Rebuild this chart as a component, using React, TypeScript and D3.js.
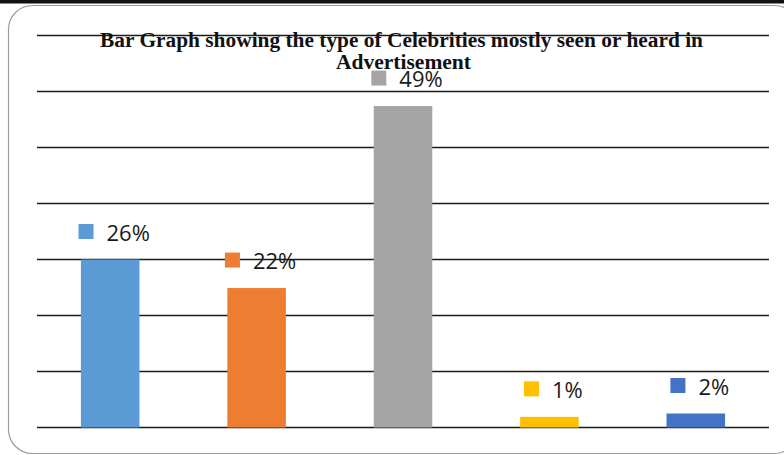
import React, { useEffect, useRef } from "react";
import * as d3 from "d3";

const categories = ["Cat A", "Cat B", "Cat C", "Cat D", "Cat E"];
const values = [30, 24.9, 57.4, 1.9, 2.5];
const valueLabels = ["26%", "22%", "49%", "1%", "2%"];
const colors = ["#5B9BD5", "#ED7D31", "#A5A5A5", "#FFC000", "#4472C4"];
const gridTicks = [0, 10, 20, 30, 40, 50, 60, 70];
const titleLines = [
  "Bar Graph showing the type of Celebrities mostly seen or heard in",
  "Advertisement",
];

const W = 784;
const H = 455;

export default function App() {
  const ref = useRef<SVGSVGElement | null>(null);

  useEffect(() => {
    const svg = d3.select(ref.current);
    svg.selectAll("*").remove();

    // frame
    svg.append("rect").attr("x", 0).attr("y", 0).attr("width", W).attr("height", 3.5).attr("fill", "#111");
    svg
      .append("rect")
      .attr("x", 8.5)
      .attr("y", 5.5)
      .attr("width", 790)
      .attr("height", 448)
      .attr("rx", 24)
      .attr("fill", "#fff")
      .attr("stroke", "#9a9a9a")
      .attr("stroke-width", 1.2);

    const x = d3.scaleBand<string>().domain(categories).range([37, 769]).paddingInner(0.6).paddingOuter(0.3);
    const y = d3.scaleLinear().domain([0, 70]).range([427.5, 35.5]);

    // gridlines
    svg
      .append("g")
      .selectAll("line")
      .data(gridTicks)
      .join("line")
      .attr("x1", 37)
      .attr("x2", 769)
      .attr("y1", (d) => y(d))
      .attr("y2", (d) => y(d))
      .attr("stroke", "#1a1a1a")
      .attr("stroke-width", 1.6);

    // title
    const title = svg.append("g");
    const tl = [
      { t: titleLines[0], cx: 401.5, y: 46.5, w: 603 },
      { t: titleLines[1], cx: 403.5, y: 68.5, w: 135 },
    ];
    tl.forEach((l) => {
      title
        .append("text")
        .attr("x", l.cx)
        .attr("y", l.y)
        .attr("text-anchor", "middle")
        .attr("font-family", "'Liberation Serif', 'Times New Roman', serif")
        .attr("font-weight", "bold")
        .attr("font-size", 20)
        .attr("textLength", l.w)
        .attr("lengthAdjust", "spacingAndGlyphs")
        .attr("fill", "#111")
        .text(l.t);
    });

    // bars
    svg
      .append("g")
      .selectAll("rect")
      .data(values)
      .join("rect")
      .attr("x", (_, i) => x(categories[i])!)
      .attr("width", x.bandwidth())
      .attr("y", (d) => y(d))
      .attr("height", (d) => y(0) - y(d))
      .attr("fill", (_, i) => colors[i]);

    // labels
    const lg = svg.append("g");
    values.forEach((v, i) => {
      const cx = x(categories[i])! + x.bandwidth() / 2 + 4;
      const base = y(v) - 19;
      const txt = lg
        .append("text")
        .attr("y", base)
        .attr("font-family", "'Open Sans', 'Noto Sans', sans-serif")
        .attr("font-size", 22)
        .attr("fill", "#1a1a1a")
        .text(valueLabels[i]);
      const node = txt.node() as SVGTextElement;
      const tw = node.getComputedTextLength();
      const total = 15 + 13 + tw;
      const left = cx - total / 2;
      txt.attr("x", left + 28);
      lg.append("rect")
        .attr("x", left)
        .attr("y", base - 16.5)
        .attr("width", 15)
        .attr("height", 15)
        .attr("fill", colors[i]);
    });
  }, []);

  return (
    <svg
      ref={ref}
      width={W}
      height={H}
      style={{ position: "absolute", left: 0, top: 0, background: "#fff" }}
    />
  );
}
